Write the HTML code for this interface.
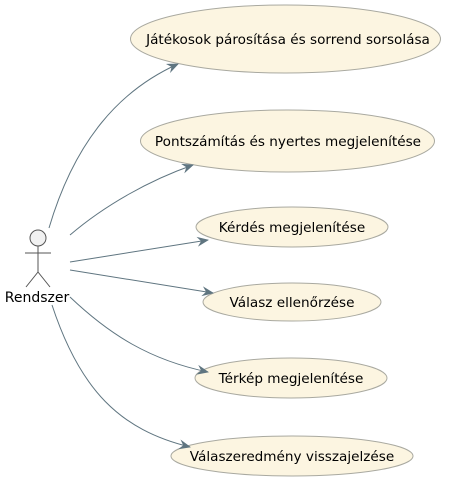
<!DOCTYPE html>
<html><head><meta charset="utf-8"><style>
html,body{margin:0;padding:0;background:#fff;width:451px;height:492px;overflow:hidden}
svg text{font-family:"DejaVu Sans","Liberation Sans",sans-serif;font-size:13.6px;fill:#000}
</style></head><body>
<svg width="451" height="492" viewBox="0 0 451 492" xmlns="http://www.w3.org/2000/svg">
<defs>
<marker id="a" viewBox="0 0 12 10" refX="11" refY="5" markerWidth="12" markerHeight="10" markerUnits="userSpaceOnUse" orient="auto">
<path d="M0,0 L12,5 L0,10 L4,5 Z" fill="#5f7580"/>
</marker>
</defs>
<g fill="#fcf5e1" stroke="#a9a9a0" stroke-width="1">
<ellipse cx="285.5" cy="39" rx="155" ry="34"/>
<ellipse cx="287.5" cy="141" rx="147" ry="31"/>
<ellipse cx="292" cy="227" rx="96" ry="20"/>
<ellipse cx="292" cy="302" rx="89" ry="19"/>
<ellipse cx="291" cy="378" rx="96" ry="20"/>
<ellipse cx="292" cy="456" rx="121" ry="20"/>
</g>
<g text-anchor="middle">
<text x="288" y="44">Játékosok párosítása és sorrend sorsolása</text>
<text x="288" y="146">Pontszámítás és nyertes megjelenítése</text>
<text x="292" y="232">Kérdés megjelenítése</text>
<text x="292" y="307">Válasz ellenőrzése</text>
<text x="291" y="383">Térkép megjelenítése</text>
<text x="292" y="461">Válaszeredmény visszajelzése</text>
</g>
<g fill="none" stroke="#5f7580" stroke-width="1" marker-end="url(#a)">
<path d="M49,228 C75,140 120,90 178,64"/>
<path d="M70,235 C105,205 150,180 193,165"/>
<path d="M70,262 L208,240"/>
<path d="M70,270 L213,293"/>
<path d="M70,297 C110,335 150,360 208,372"/>
<path d="M52,305 C80,390 120,430 190,447"/>
</g>
<circle cx="38" cy="238" r="8" fill="#f1f1f1" stroke="#555" stroke-width="1"/>
<g stroke="#555" stroke-width="1" fill="none">
<line x1="38" y1="246" x2="38" y2="272"/>
<line x1="25" y1="253" x2="51" y2="253"/>
<path d="M26,287 L38,272 L50,287"/>
</g>
<text x="37" y="302" text-anchor="middle" style="font-size:14px">Rendszer</text>
</svg>
</body></html>
